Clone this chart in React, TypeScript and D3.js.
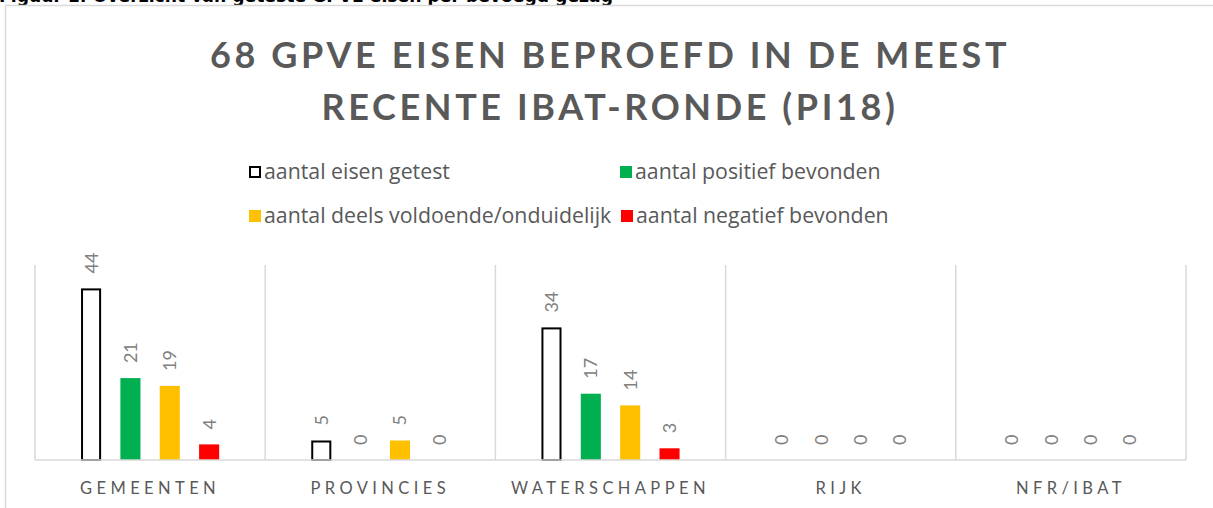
import React from "react";
import * as d3 from "d3";

const categories = ["GEMEENTEN", "PROVINCIES", "WATERSCHAPPEN", "RIJK", "NFR/IBAT"];
const seriesNames = [
  "aantal eisen getest",
  "aantal positief bevonden",
  "aantal deels voldoende/onduidelijk",
  "aantal negatief bevonden",
];
const getest = [44, 5, 34, 0, 0];
const positief = [21, 0, 17, 0, 0];
const deels = [19, 5, 14, 0, 0];
const negatief = [4, 0, 3, 0, 0];
const seriesColors = ["#ffffff", "#00b050", "#ffc000", "#ff0000"];
const titleLines = ["68 GPVE EISEN BEPROEFD IN DE MEEST", "RECENTE IBAT-RONDE (PI18)"];
const caption = "Figuur 1: Overzicht van geteste GPVE eisen per bevoegd gezag";

const W = 1213;
const H = 508;
const FONT = "Lato, 'Open Sans', sans-serif";
const LEGEND_FONT = "'Open Sans', Lato, sans-serif";

export default function App() {
  const seriesValues = [getest, positief, deels, negatief];
  const plot = { left: 35, right: 1186, top: 265, bottom: 460 };
  const x = d3.scaleBand<string>().domain(categories).range([plot.left, plot.right]).padding(0);
  const inner = d3
    .scaleBand<number>()
    .domain(d3.range(seriesNames.length))
    .range([0, x.bandwidth()])
    .paddingInner(0.49)
    .paddingOuter(1.17);
  const y = d3.scaleLinear().domain([0, 50]).range([plot.bottom, plot.top]);
  const boundaries = [...categories.map((c) => x(c)!), plot.right];

  const legendItems = [
    { i: 0, x: 249, y: 166 },
    { i: 1, x: 620, y: 166 },
    { i: 2, x: 249, y: 210 },
    { i: 3, x: 621, y: 210 },
  ];

  return (
    <svg
      width={W}
      height={H}
      style={{ position: "absolute", left: 0, top: 0, display: "block", background: "#fff" }}
    >
      {/* caption, cut off at the top edge as in the source */}
      <text x={-1} y={2} fontFamily="'DejaVu Sans', Verdana, sans-serif" fontWeight="bold" fontSize={17.2} fill="#000">
        {caption}
      </text>
      {/* chart frame */}
      <line x1={5.5} x2={W + 5} y1={5.5} y2={5.5} stroke="#d9d9d9" strokeWidth={1.5} />
      <line x1={5.5} x2={5.5} y1={5.5} y2={H + 5} stroke="#d9d9d9" strokeWidth={1.5} />

      {/* title */}
      {titleLines.map((t, i) => (
        <text
          key={i}
          x={610}
          y={68 + i * 52}
          textAnchor="middle"
          fontFamily={FONT}
          fontWeight="bold"
          fontSize={36}
          letterSpacing={3.6}
          fill="#595959"
        >
          {t}
        </text>
      ))}

      {/* legend */}
      {legendItems.map((d) => (
        <g key={d.i}>
          <rect
            x={d.i === 0 ? d.x + 1 : d.x}
            y={d.i === 0 ? d.y + 1 : d.y}
            width={d.i === 0 ? 10 : 12}
            height={d.i === 0 ? 10 : 12}
            fill={seriesColors[d.i]}
            stroke={d.i === 0 ? "#000" : "none"}
            strokeWidth={2}
          />
          <text x={d.x + 15} y={d.y + 13} fontFamily={LEGEND_FONT} fontSize={21.3} fill="#595959">
            {seriesNames[d.i]}
          </text>
        </g>
      ))}

      {/* gridlines */}
      {boundaries.map((b, i) => (
        <line key={i} x1={b} x2={b} y1={plot.top} y2={plot.bottom} stroke="#d9d9d9" strokeWidth={1.5} />
      ))}

      {/* bars */}
      {categories.map((c, ci) => (
        <g key={c} transform={`translate(${x(c)},0)`}>
          {seriesValues.map((vals, si) => {
            const v = vals[ci];
            const bx = inner(si)!;
            const bw = inner.bandwidth();
            const top = y(v);
            const h = plot.bottom - top;
            return (
              <g key={si}>
                {v > 0 && (
                  <rect
                    x={si === 0 ? bx + 1 : bx}
                    y={si === 0 ? top + 1 : top}
                    width={si === 0 ? bw - 2 : bw}
                    height={si === 0 ? h - 1 : h}
                    fill={seriesColors[si]}
                    stroke={si === 0 ? "#000" : "none"}
                    strokeWidth={2}
                  />
                )}
                <text
                  transform={`translate(${bx + bw / 2 + 6.5},${top - 15}) rotate(-90)`}
                  fontFamily={FONT}
                  fontSize={18}
                  fill="#808080"
                >
                  {v}
                </text>
              </g>
            );
          })}
          <text
            x={x.bandwidth() / 2}
            y={494}
            textAnchor="middle"
            fontFamily={FONT}
            fontSize={16.5}
            letterSpacing={4.4}
            fill="#595959"
          >
            {c}
          </text>
        </g>
      ))}
      <line x1={plot.left} x2={plot.right} y1={plot.bottom} y2={plot.bottom} stroke="#d9d9d9" strokeWidth={1.5} />
    </svg>
  );
}
